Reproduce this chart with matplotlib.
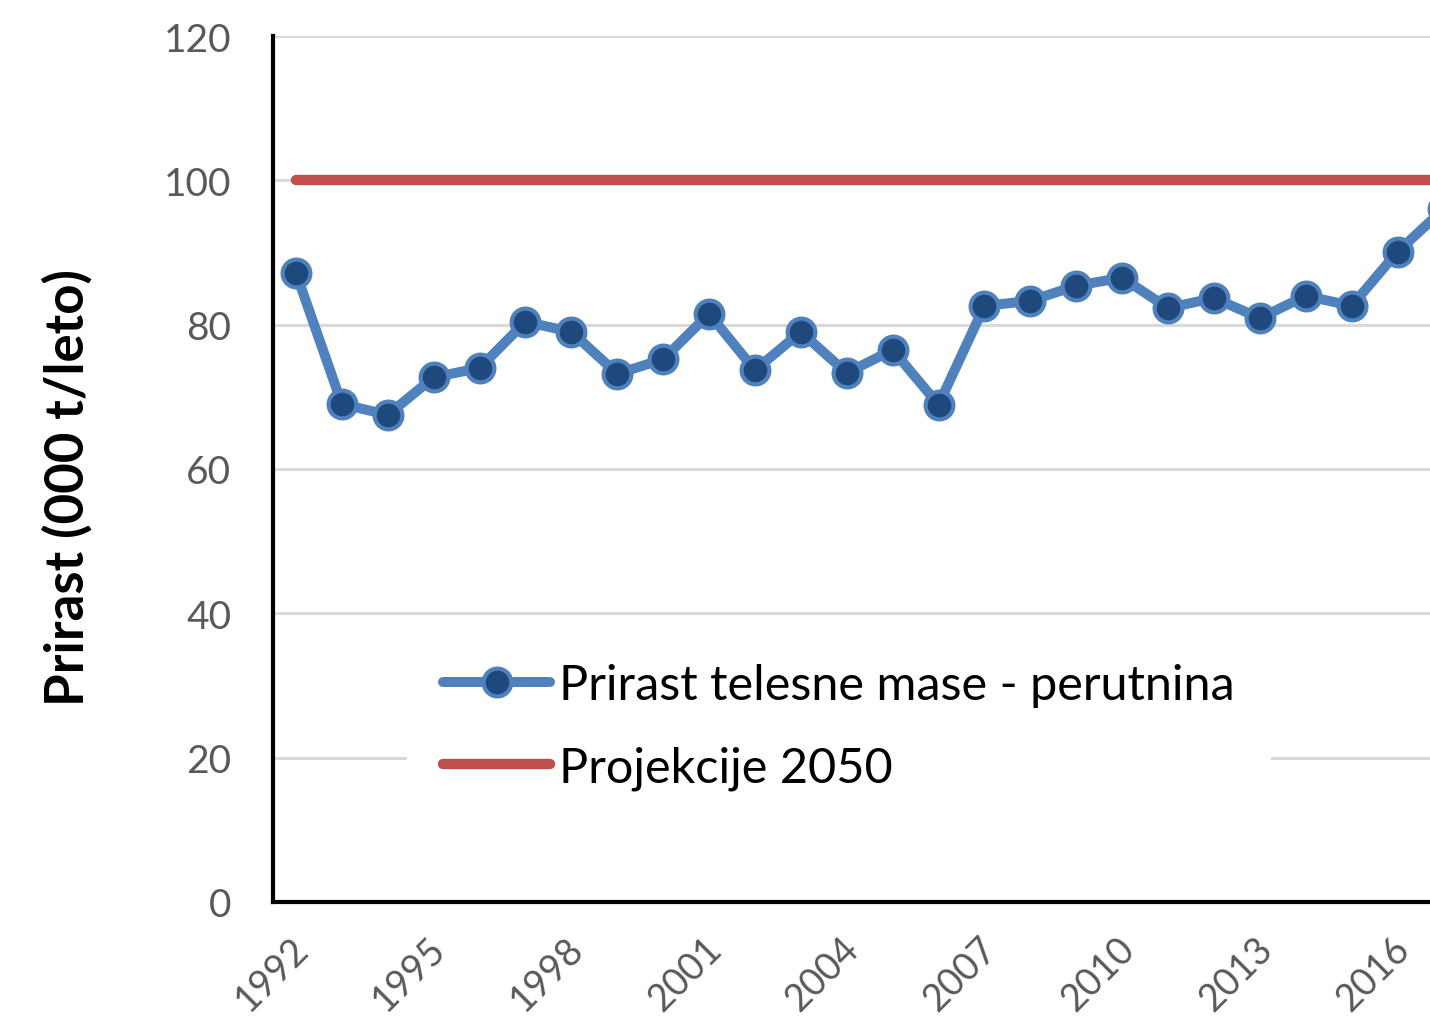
import matplotlib
matplotlib.use("Agg")
import matplotlib.pyplot as plt
import matplotlib.transforms as mtransforms

years = list(range(1992, 2018))
prirast = [87.2, 69.0, 67.5, 72.7, 74.0, 80.4, 79.0, 73.2, 75.2, 81.5, 73.7, 79.0,
           73.3, 76.5, 68.9, 82.6, 83.3, 85.4, 86.5, 82.3, 83.7, 80.9, 84.0, 82.6,
           90.1, 96.0]
projekcije = [100.0] * len(years)
tick_years = list(range(1992, 2017, 3))
yticks = [0, 20, 40, 60, 80, 100, 120]

plt.rcParams['font.family'] = ['Lato', 'DejaVu Sans']

W, H = 1430, 1020
fig = plt.figure(figsize=(W / 100, H / 100), dpi=100)
ax_left_px, ax_bottom_px, ax_top_px = 273, 903, 37
ax_width_px = W - ax_left_px + 300
ax = fig.add_axes([ax_left_px / W, 1 - ax_bottom_px / H, ax_width_px / W,
                   (ax_bottom_px - ax_top_px) / H])
px_per_year = 45.9
x0 = 1991.5
ax.set_xlim(x0, x0 + ax_width_px / px_per_year)
ax.set_ylim(0, 120)

ax.yaxis.grid(True, color='#d9d9d9', linewidth=2.2, zorder=0)
ax.set_axisbelow(True)

ax.plot(years, projekcije, color='#c0504d', linewidth=7.5, solid_capstyle='round',
        label='Projekcije 2050', zorder=2)
ax.plot(years, prirast, color='#4f81bd', linewidth=7.2, marker='o', markersize=20,
        markerfacecolor='#1f497d', markeredgecolor='#4f81bd', markeredgewidth=3,
        solid_capstyle='round', label='Prirast telesne mase - perutnina', zorder=3)

ax.set_yticks(yticks)
ax.set_yticklabels([str(v) for v in yticks], fontsize=28, color='#595959')
ax.set_xticks(tick_years)
ax.set_xticklabels([str(y) for y in tick_years], fontsize=27, color='#595959',
                   rotation=45, ha='right', va='top', rotation_mode='anchor')
ax.tick_params(axis='y', length=0, pad=30)
ax.tick_params(axis='x', length=0, pad=20)
shift = mtransforms.ScaledTranslation(-6 / 100, 0, fig.dpi_scale_trans)
for lbl in ax.get_xticklabels():
    lbl.set_transform(lbl.get_transform() + shift)

for s in ['top', 'right']:
    ax.spines[s].set_visible(False)
for s in ['left', 'bottom']:
    ax.spines[s].set_linewidth(3)
    ax.spines[s].set_color('black')

fig.text(67 / W, 1 - 487 / H, 'Prirast (000 t/leto)', fontsize=38, fontweight='bold',
         rotation=90, ha='center', va='center', color='black')

handles, labels = ax.get_legend_handles_labels()
leg = ax.legend(handles[::-1], labels[::-1], loc='upper left',
                bbox_to_anchor=((407 - ax_left_px) / ax_width_px,
                                (ax_bottom_px - 628) / (ax_bottom_px - ax_top_px)),
                fontsize=35, frameon=True, facecolor='white', edgecolor='white',
                framealpha=1, handlelength=2.2, handletextpad=0.17,
                labelspacing=0.78, borderpad=0.75, borderaxespad=0)
leg.get_frame().set_linewidth(0)

fig.savefig('out.png', dpi=100)
